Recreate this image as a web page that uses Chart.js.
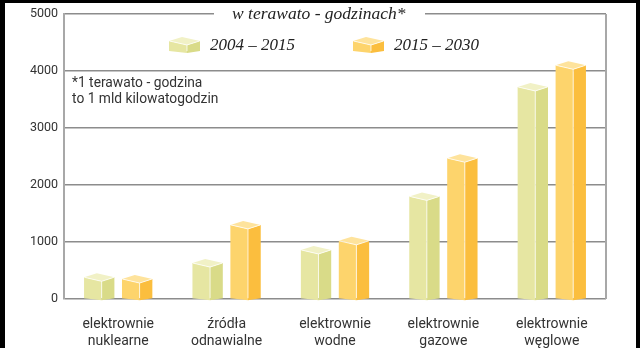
<!DOCTYPE html>
<html>
<head>
<meta charset="utf-8">
<script src="https://cdn.jsdelivr.net/npm/chart.js@4"></script>
<style>
html, body { margin: 0; padding: 0; background: #000; }
#wrap { position: absolute; left: 0; top: 0; width: 640px; height: 348px; }
</style>
</head>
<body>
<div id="wrap"><canvas id="chart" width="640" height="348"></canvas></div>
<script>
// energy production by source, TWh
const categories = [
    ['elektrownie', 'nuklearne'],
    ['źródła', 'odnawialne'],
    ['elektrownie', 'wodne'],
    ['elektrownie', 'gazowe'],
    ['elektrownie', 'węglowe']
];
const seriesNames = ['2004 – 2015', '2015 – 2030'];
const values2004 = [380, 630, 860, 1800, 3720];
const values2015 = [350, 1300, 1020, 2470, 4100];
const yTicks = [0, 1000, 2000, 3000, 4000, 5000];

// face colours for the 3D boxes: top, left, right
const faces = [
    { top: '#f1f1c6', left: '#e6e6a2', right: '#d9db88' },
    { top: '#fee39c', left: '#fdd46c', right: '#fbbe3e' }
];

function drawBox(ctx, left, right, top, bottom, d, col) {
    const mid = left + (right - left) * 0.58;
    // left face
    ctx.fillStyle = col.left;
    ctx.beginPath();
    ctx.moveTo(left, top);
    ctx.lineTo(mid, top + d);
    ctx.lineTo(mid, bottom + d * 0.5);
    ctx.lineTo(left, bottom);
    ctx.closePath();
    ctx.fill();
    // right face
    ctx.fillStyle = col.right;
    ctx.beginPath();
    ctx.moveTo(mid, top + d);
    ctx.lineTo(right, top);
    ctx.lineTo(right, bottom);
    ctx.lineTo(mid, bottom + d * 0.5);
    ctx.closePath();
    ctx.fill();
    // top face
    ctx.fillStyle = col.top;
    ctx.beginPath();
    ctx.moveTo(left, top);
    ctx.lineTo(left + (right - mid), top - d);
    ctx.lineTo(right, top);
    ctx.lineTo(mid, top + d);
    ctx.closePath();
    ctx.fill();
    // light edges
    ctx.strokeStyle = 'rgba(255,255,255,0.75)';
    ctx.lineWidth = 1;
    ctx.beginPath();
    ctx.moveTo(left + 0.5, top);
    ctx.lineTo(mid, top + d);
    ctx.lineTo(right - 0.5, top);
    ctx.moveTo(mid, top + d);
    ctx.lineTo(mid, bottom);
    ctx.stroke();
}

const boxPlugin = {
    id: 'boxes',
    beforeDraw(chart) {
        const ctx = chart.ctx;
        ctx.save();
        ctx.fillStyle = '#000';
        ctx.fillRect(0, 0, 640, 348);
        ctx.fillStyle = '#fff';
        ctx.fillRect(5, 3, 631, 345);
        ctx.restore();
    },
    afterDatasetsDraw(chart) {
        const ctx = chart.ctx;
        const area = chart.chartArea;
        ctx.save();
        // right frame line
        ctx.strokeStyle = '#a8a8a8';
        ctx.lineWidth = 2;
        ctx.beginPath();
        ctx.moveTo(area.right, area.top);
        ctx.lineTo(area.right, area.bottom);
        ctx.stroke();

        chart.data.datasets.forEach((ds, i) => {
            chart.getDatasetMeta(i).data.forEach(bar => {
                const w = bar.width;
                drawBox(ctx, bar.x - w / 2, bar.x + w / 2, bar.y, bar.base, 4, faces[i]);
            });
        });

        // title on the top gridline
        ctx.fillStyle = '#fff';
        ctx.fillRect(214, 6, 211, 16);
        ctx.fillStyle = '#222';
        ctx.font = 'italic 17.5px "Liberation Serif"';
        ctx.textBaseline = 'middle';
        ctx.textAlign = 'left';
        ctx.fillText('w terawato - godzinach*', 232, 14);

        // legend
        const legendX = [169, 353];
        seriesNames.forEach((name, i) => {
            drawBox(ctx, legendX[i], legendX[i] + 31, 41, 51, 4, faces[i]);
            ctx.fillStyle = '#222';
            ctx.font = 'italic 17px "Liberation Serif"';
            ctx.fillText(name, legendX[i] + 41, 46);
        });

        // footnote
        ctx.fillStyle = '#333';
        ctx.font = '13.8px Roboto';
        ctx.fillText('*1 terawato - godzina', 72, 84);
        ctx.fillText('to 1 mld kilowatogodzin', 72, 100);
        ctx.restore();
    }
};

new Chart(document.getElementById('chart'), {
    type: 'bar',
    data: {
        labels: categories,
        datasets: [
            { label: seriesNames[0], data: values2004, backgroundColor: 'rgba(0,0,0,0)' },
            { label: seriesNames[1], data: values2015, backgroundColor: 'rgba(0,0,0,0)' }
        ]
    },
    options: {
        responsive: false,
        animation: false,
        events: [],
        categoryPercentage: 0.7,
        barPercentage: 0.8,
        layout: { padding: { left: 0, right: 34, top: 14, bottom: 0 } },
        plugins: { legend: { display: false }, tooltip: { enabled: false } },
        scales: {
            x: {
                grid: { display: false },
                border: { display: false },
                ticks: {
                    color: '#333',
                    font: { family: 'Roboto', size: 14 },
                    padding: 9,
                    maxRotation: 0
                },
                afterFit(scale) { scale.height = 49; }
            },
            y: {
                min: 0,
                max: 5000,
                afterBuildTicks(scale) { scale.ticks = yTicks.map(v => ({ value: v })); },
                grid: { color: '#8c8c8c', lineWidth: 1.5, drawTicks: false },
                border: { display: true, color: '#a8a8a8', width: 2 },
                ticks: {
                    color: '#333',
                    font: { family: 'Roboto', size: 12.5 },
                    padding: 6,
                    callback: v => String(v)
                },
                afterFit(scale) { scale.width = 64; }
            }
        }
    },
    plugins: [boxPlugin]
});
</script>
</body>
</html>
